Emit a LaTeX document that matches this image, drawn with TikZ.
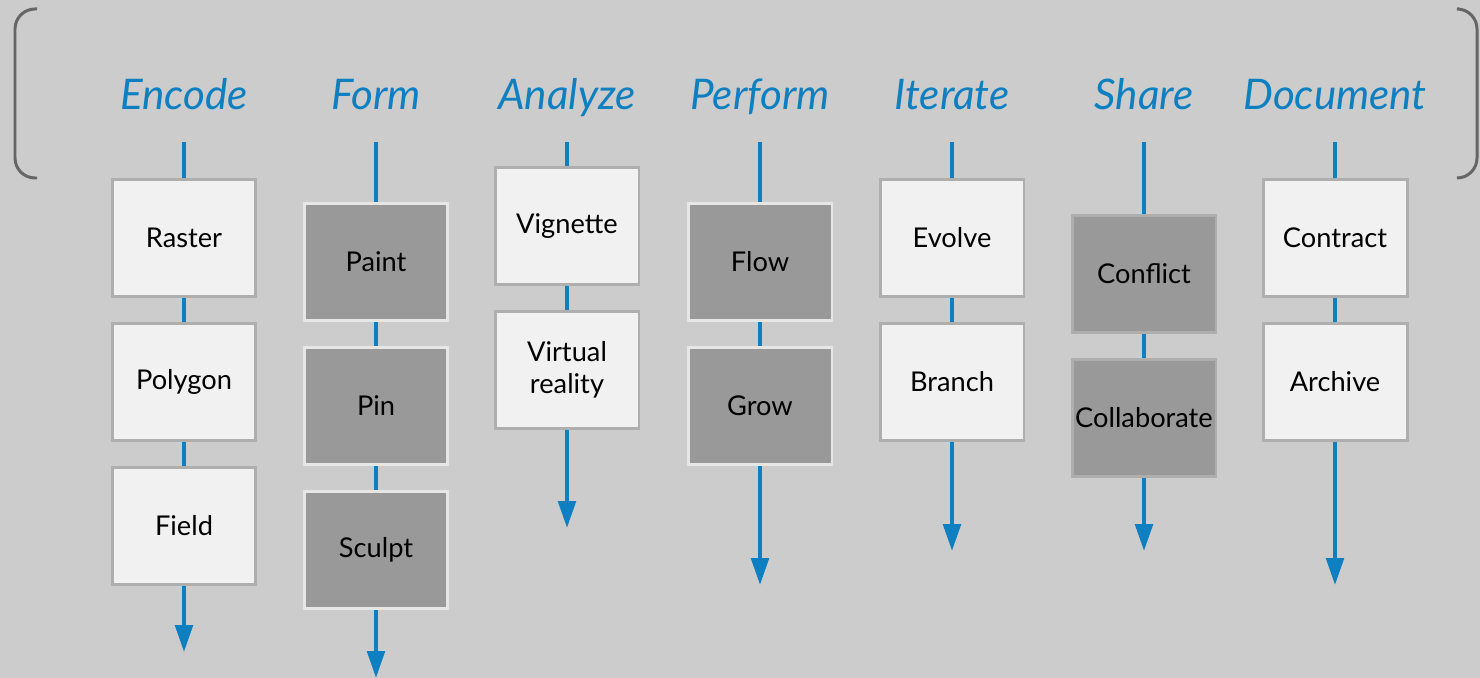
\documentclass[tikz,border=0pt]{standalone}
\usepackage{fontspec}
\setmainfont{Lato}
\usetikzlibrary{arrows.meta}
\definecolor{flowblue}{HTML}{0E7FC0}
\definecolor{paper}{HTML}{CCCCCC}
\definecolor{boxlight}{HTML}{F1F1F1}
\definecolor{boxrim}{HTML}{AEAEAE}
\definecolor{boxdark}{HTML}{999999}
\definecolor{boxedge}{HTML}{E6E6E6}
\definecolor{bracket}{HTML}{666666}
\tikzset{
  stage/.style={font=\itshape\fontsize{24}{28}\selectfont, text=flowblue, anchor=base},
  lightbox/.style={draw=boxrim, line width=1.7pt, fill=boxlight, minimum width=2.88cm,
    minimum height=2.34cm, inner sep=1pt, align=center, font=\fontsize{15.5}{18}\selectfont},
  darkbox/.style={lightbox, fill=boxdark, draw=boxedge},
  darkrim/.style={lightbox, fill=boxdark},
  flow/.style={draw=flowblue, line width=2.3pt},
  flowend/.style={flow, -{Triangle[length=0.54cm,width=0.35cm]}},
}
\begin{document}
\begin{tikzpicture}[x=0.02cm,y=-0.02cm]
      \useasboundingbox[fill=paper] (0,0) rectangle (1480,678);
      % brackets
      \draw[bracket, line width=1.7pt, rounded corners=0.4cm] (37,9) -- (15,9) -- (15,178) -- (37,178);
      \draw[bracket, line width=1.7pt, rounded corners=0.4cm] (1459,9) -- (1477,9) -- (1477,178) -- (1459,178);
      % Encode
      \node[stage] (encode) at (184,110) {Encode};
      \coordinate (e0) at (184,142);
      \node[lightbox] (raster) at (184,238) {Raster};
      \node[lightbox] (polygon) at (184,382) {Polygon};
      \node[lightbox] (field) at (184,526) {Field};
      \coordinate (e1) at (184,652);
      \draw[flow] (e0) -- (raster) -- (polygon) -- (field);
      \draw[flowend] (field) -- (e1);
      % Form
      \node[stage] (form) at (376,110) {Form};
      \coordinate (f0) at (376,142);
      \node[darkbox] (paint) at (376,262) {Paint};
      \node[darkbox] (pin) at (376,406) {Pin};
      \node[darkbox] (sculpt) at (376,550) {Sculpt};
      \coordinate (f1) at (376,678);
      \draw[flow] (f0) -- (paint) -- (pin) -- (sculpt);
      \draw[flowend] (sculpt) -- (f1);
      % Analyze
      \node[stage] (analyze) at (567,110) {Analyze};
      \coordinate (a0) at (567,142);
      \node[lightbox] (vignette) at (567,226) {Vignette};
      \node[lightbox] (virtual) at (567,370) {Virtual\\reality};
      \coordinate (a1) at (567,528);
      \draw[flow] (a0) -- (vignette) -- (virtual);
      \draw[flowend] (virtual) -- (a1);
      % Perform
      \node[stage] (perform) at (760,110) {Perform};
      \coordinate (p0) at (760,142);
      \node[darkbox] (flowbox) at (760,262) {Flow};
      \node[darkbox] (grow) at (760,406) {Grow};
      \coordinate (p1) at (760,585);
      \draw[flow] (p0) -- (flowbox) -- (grow);
      \draw[flowend] (grow) -- (p1);
      % Iterate
      \node[stage] (iterate) at (952,110) {Iterate};
      \coordinate (i0) at (952,142);
      \node[lightbox] (evolve) at (952,238) {Evolve};
      \node[lightbox] (branch) at (952,382) {Branch};
      \coordinate (i1) at (952,551);
      \draw[flow] (i0) -- (evolve) -- (branch);
      \draw[flowend] (branch) -- (i1);
      % Share
      \node[stage] (share) at (1144,110) {Share};
      \coordinate (s0) at (1144,142);
      \node[darkrim] (conflict) at (1144,274) {Conflict};
      \node[darkrim] (collab) at (1144,418) {Collaborate};
      \coordinate (s1) at (1144,551);
      \draw[flow] (s0) -- (conflict) -- (collab);
      \draw[flowend] (collab) -- (s1);
      % Document
      \node[stage] (document) at (1335,110) {Document};
      \coordinate (d0) at (1335,142);
      \node[lightbox] (contract) at (1335,238) {Contract};
      \node[lightbox] (archive) at (1335,382) {Archive};
      \coordinate (d1) at (1335,585);
      \draw[flow] (d0) -- (contract) -- (archive);
      \draw[flowend] (archive) -- (d1);
\end{tikzpicture}
\end{document}
